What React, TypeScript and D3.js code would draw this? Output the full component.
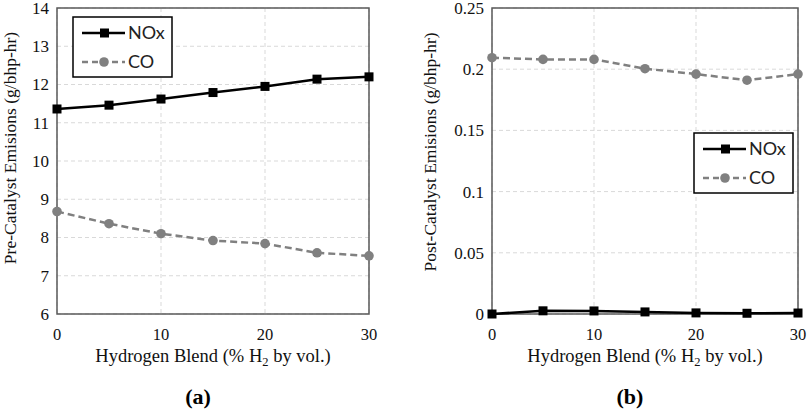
import React from "react";
import * as d3 from "d3";

const blend = [0, 5, 10, 15, 20, 25, 30];
const preNOx = [11.36, 11.46, 11.62, 11.79, 11.95, 12.14, 12.2];
const preCO = [8.68, 8.36, 8.1, 7.92, 7.84, 7.6, 7.52];
const postNOx = [0.0, 0.0026, 0.0025, 0.0017, 0.0009, 0.0006, 0.0008];
const postCO = [0.2094, 0.208, 0.208, 0.2004, 0.196, 0.191, 0.196];
const xTicks = [0, 10, 20, 30];
const preYTicks = [6, 7, 8, 9, 10, 11, 12, 13, 14];
const postYTicks = [0, 0.05, 0.1, 0.15, 0.2, 0.25];
const seriesNames = ["NOx", "CO"];

const SERIF = "Liberation Serif, Tinos, Times New Roman, DejaVu Serif, serif";
const SANS = "Lato, Open Sans, sans-serif";
const GREY = "#808080";

type PanelProps = {
  left: number;
  right: number;
  top: number;
  bottom: number;
  yDomain: [number, number];
  yTicks: number[];
  nox: number[];
  co: number[];
  yLabel: string;
  panel: string;
  legend: { x: number; y: number };
  yLabelX: number;
  yLabelY: number;
};

const serifStyle = { fontFamily: SERIF };
const sansStyle = { fontFamily: SANS };

function Panel(p: PanelProps) {
  const x = d3.scaleLinear().domain([0, 30]).range([p.left, p.right]);
  const y = d3.scaleLinear().domain(p.yDomain).range([p.bottom, p.top]);
  const line = d3
    .line<number>()
    .x((_, i) => x(blend[i]))
    .y((d) => y(d));
  const cx = (p.left + p.right) / 2;
  const lw = 99;
  const lh = 60;
  return (
    <g>
      {p.yTicks.map((t) => (
        <line
          key={"gy" + t}
          x1={p.left}
          x2={p.right}
          y1={y(t)}
          y2={y(t)}
          stroke="#d9d9d9"
          strokeWidth={1}
          strokeDasharray="4,3"
        />
      ))}
      {xTicks.map((t) => (
        <line
          key={"gx" + t}
          x1={x(t)}
          x2={x(t)}
          y1={p.top}
          y2={p.bottom}
          stroke="#d9d9d9"
          strokeWidth={1}
          strokeDasharray="4,3"
        />
      ))}
      <rect
        x={p.left}
        y={p.top}
        width={p.right - p.left}
        height={p.bottom - p.top}
        fill="none"
        stroke="#595959"
        strokeWidth={1.5}
      />
      {p.yTicks.map((t) => (
        <text
          key={"ty" + t}
          x={p.left - 8}
          y={y(t)}
          dy="0.35em"
          textAnchor="end"
          style={serifStyle}
          fontSize={17}
          fill="#111"
        >
          {String(t)}
        </text>
      ))}
      {xTicks.map((t) => (
        <text
          key={"tx" + t}
          x={x(t)}
          y={p.bottom + 26}
          textAnchor="middle"
          style={serifStyle}
          fontSize={16.5}
          fill="#111"
        >
          {String(t)}
        </text>
      ))}
      <text
        x={cx}
        y={p.bottom + 48}
        textAnchor="middle"
        style={serifStyle}
        fontSize={18.5}
        fill="#111"
      >
        Hydrogen Blend (%{" "}
        <tspan>H</tspan>
        <tspan fontSize={12.5} dy={4}>
          2
        </tspan>
        <tspan dy={-4}> by vol.)</tspan>
      </text>
      <text
        transform={`translate(${p.yLabelX},${p.yLabelY}) rotate(-90)`}
        textAnchor="middle"
        dy="0.35em"
        style={serifStyle}
        fontSize={17.5}
        fill="#111"
      >
        {p.yLabel}
      </text>
      <text
        x={cx - 15}
        y={p.bottom + 90}
        textAnchor="middle"
        style={serifStyle}
        fontSize={22}
        fontWeight="bold"
        fill="#000"
      >
        {p.panel}
      </text>
      <path
        d={line(p.co) || ""}
        fill="none"
        stroke={GREY}
        strokeWidth={2.5}
        strokeDasharray="7,4"
      />
      {p.co.map((v, i) => (
        <circle key={"c" + i} cx={x(blend[i])} cy={y(v)} r={4.8} fill={GREY} />
      ))}
      <path d={line(p.nox) || ""} fill="none" stroke="#000" strokeWidth={2.5} />
      {p.nox.map((v, i) => (
        <rect
          key={"n" + i}
          x={x(blend[i]) - 4.5}
          y={y(v) - 4.5}
          width={9}
          height={9}
          fill="#000"
        />
      ))}
      <g transform={`translate(${p.legend.x},${p.legend.y})`}>
        <rect
          x={0}
          y={0}
          width={lw}
          height={lh}
          fill="#fff"
          stroke="#000"
          strokeWidth={1.5}
        />
        <line x1={9} x2={52} y1={16} y2={16} stroke="#000" strokeWidth={2.5} />
        <rect x={27} y={11.5} width={9} height={9} fill="#000" />
        <text x={55} y={16} dy="0.36em" style={sansStyle} fontSize={18} fill="#222">
          {seriesNames[0]}
        </text>
        <line
          x1={9}
          x2={52}
          y1={45}
          y2={45}
          stroke={GREY}
          strokeWidth={2.5}
          strokeDasharray="6,4"
        />
        <circle cx={31} cy={45} r={4.8} fill={GREY} />
        <text x={55} y={45} dy="0.36em" style={sansStyle} fontSize={18} fill="#222">
          {seriesNames[1]}
        </text>
      </g>
    </g>
  );
}

export default function App() {
  return (
    <svg
      width={809}
      height={411}
      style={{ position: "absolute", left: 0, top: 0, background: "#fff" }}
    >
      <Panel
        left={57}
        right={369}
        top={8}
        bottom={314}
        yDomain={[6, 14]}
        yTicks={preYTicks}
        nox={preNOx}
        co={preCO}
        yLabel="Pre-Catalyst Emisions (g/bhp-hr)"
        panel="(a)"
        legend={{ x: 73, y: 17 }}
        yLabelX={10}
        yLabelY={148}
      />
      <Panel
        left={492}
        right={798}
        top={8}
        bottom={314}
        yDomain={[0, 0.25]}
        yTicks={postYTicks}
        nox={postNOx}
        co={postCO}
        yLabel="Post-Catalyst Emisions (g/bhp-hr)"
        panel="(b)"
        legend={{ x: 694, y: 133 }}
        yLabelX={430}
        yLabelY={152}
      />
    </svg>
  );
}
